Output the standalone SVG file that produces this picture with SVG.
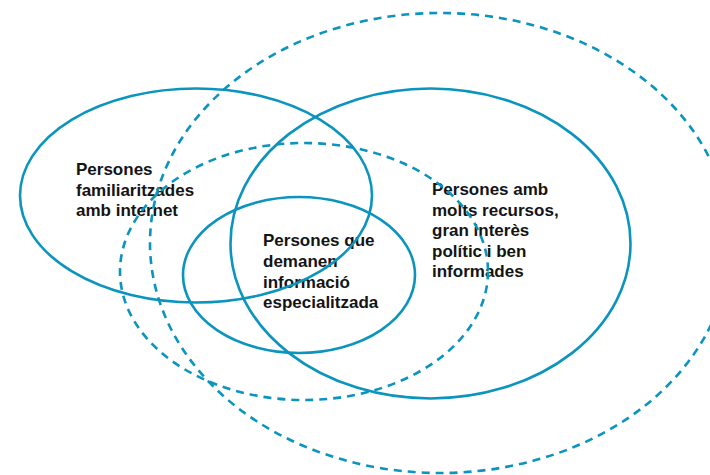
<svg xmlns="http://www.w3.org/2000/svg" width="710" height="475" viewBox="0 0 710 475">
<style>
.solid{fill:none;stroke:#0a94be;stroke-width:2.6}
.dash{fill:none;stroke:#0a94be;stroke-width:2.6;stroke-dasharray:8 6}
.lbl{font-family:"Liberation Sans",Arial,sans-serif;font-weight:bold;font-size:17px;fill:#141414}
</style>
<rect width="710" height="475" fill="#ffffff"/>
<g id="label-internet">
<text class="lbl" x="76" y="175">Persones</text>
<text class="lbl" x="76" y="195.5">familiaritzades</text>
<text class="lbl" x="76" y="216">amb internet</text>
</g>
<g id="label-especialitzada">
<text class="lbl" x="263" y="246">Persones que</text>
<text class="lbl" x="263" y="266.5">demanen</text>
<text class="lbl" x="263" y="287.5">informació</text>
<text class="lbl" x="263" y="308">especialitzada</text>
</g>
<g id="label-recursos">
<text class="lbl" x="432" y="195">Persones amb</text>
<text class="lbl" x="432" y="215.5">molts recursos,</text>
<text class="lbl" x="432" y="236">gran interès</text>
<text class="lbl" x="432" y="256.5">polític i ben</text>
<text class="lbl" x="432" y="277">informades</text>
</g>
<g id="connectors"></g>
<g id="big-dashed"><ellipse class="dash" cx="440" cy="243" rx="290" ry="230"/></g>
<g id="middle-dashed"><ellipse class="dash" cx="304" cy="271.5" rx="184" ry="128.5"/></g>
<g id="internet"><ellipse class="solid" cx="196" cy="195.5" rx="176" ry="107"/></g>
<g id="recursos"><ellipse class="solid" cx="430.5" cy="243.5" rx="200" ry="155"/></g>
<g id="especialitzada"><ellipse class="solid" cx="299" cy="275" rx="116" ry="78"/></g>
</svg>
